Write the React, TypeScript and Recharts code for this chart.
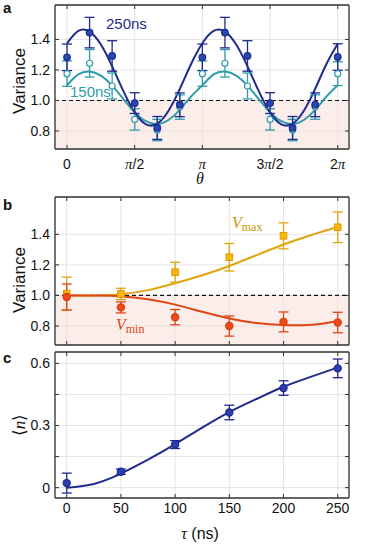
import React from 'react';
import {
  ComposedChart, Line, Scatter, ErrorBar, XAxis, YAxis, CartesianGrid,
  ReferenceArea, ReferenceLine,
} from 'recharts';

const PI = Math.PI;
const SANS = '"Liberation Sans", Arial, sans-serif';
const SERIF = '"Liberation Serif", "DejaVu Serif", serif';

// ---- panel a : variance vs theta (x in steps of pi/6 for points, pi/12 for fits)
const thetaPointSteps = [0, 1, 2, 3, 4, 5, 6, 7, 8, 9, 10, 11, 12];
const var250 = [1.283, 1.445, 1.292, 0.983, 0.82, 0.972, 1.283, 1.445, 1.292, 0.983, 0.82, 0.972, 1.285];
const err250 = [0.087, 0.1, 0.1, 0.068, 0.075, 0.078, 0.087, 0.1, 0.1, 0.068, 0.075, 0.078, 0.087];
const var150 = [1.176, 1.244, 1.095, 0.876, 0.806, 0.957, 1.176, 1.244, 1.095, 0.876, 0.806, 0.957, 1.176];
const err150 = [0.083, 0.09, 0.085, 0.07, 0.07, 0.08, 0.083, 0.09, 0.085, 0.07, 0.07, 0.08, 0.078];

const thetaFitSteps = [0, 1, 2, 3, 4, 5, 6, 7, 8, 9, 10, 11, 12, 13, 14, 15, 16, 17, 18, 19, 20, 21, 22, 23, 24];
const fit250 = [1.375, 1.456, 1.452, 1.367, 1.224, 1.061, 0.922, 0.844, 0.848, 0.933, 1.076, 1.239,
  1.375, 1.456, 1.452, 1.367, 1.224, 1.061, 0.922, 0.844, 0.848, 0.933, 1.076, 1.239, 1.372];
const fit150 = [1.1, 1.171, 1.19, 1.163, 1.097, 1.009, 0.924, 0.864, 0.845, 0.872, 0.938, 1.026,
  1.1, 1.171, 1.19, 1.163, 1.097, 1.009, 0.924, 0.864, 0.845, 0.872, 0.938, 1.026, 1.1];

const thetaTickSteps = [0, 1, 2, 3, 4]; // multiples of pi/2
const thetaTickLabels = ['0', 'π/2', 'π', '3π/2', '2π'];
const varTicks = [0.8, 1.0, 1.2, 1.4];

// ---- panel b : Vmax / Vmin vs tau
const tauPoints = [0, 50, 100, 150, 200, 250];
const vMax = [1.012, 1.01, 1.152, 1.25, 1.39, 1.446];
const vMaxErr = [0.108, 0.037, 0.065, 0.09, 0.085, 0.1];
const vMin = [0.99, 0.922, 0.858, 0.8, 0.827, 0.823];
const vMinErr = [0.085, 0.036, 0.05, 0.066, 0.065, 0.067];

const tauFit = [0, 25, 50, 75, 100, 125, 150, 175, 200, 225, 250];
const vMaxFit = [1.0, 1.0, 1.008, 1.035, 1.08, 1.132, 1.193, 1.263, 1.333, 1.394, 1.448];
const vMinFit = [1.0, 0.999, 0.995, 0.975, 0.94, 0.893, 0.85, 0.82, 0.806, 0.808, 0.832];

const tauTicks = [0, 50, 100, 150, 200, 250];

// ---- panel c : mean photon number vs tau
const nMean = [0.022, 0.077, 0.208, 0.363, 0.481, 0.576];
const nErr = [0.048, 0.013, 0.019, 0.035, 0.035, 0.045];
const nFit = [0, 0.018, 0.068, 0.135, 0.21, 0.29, 0.365, 0.428, 0.487, 0.535, 0.58];
const nTicks = [0, 0.15, 0.3, 0.45, 0.6];
const nTickLabels = ['0', '', '0.3', '', '0.6'];

const rows = (xs: number[], ys: number[], es?: number[]) =>
  xs.map((x, i) => ({ x, y: ys[i], e: es ? es[i] : 0 }));

const pts250 = rows(thetaPointSteps.map((s) => (s * PI) / 6), var250, err250);
const pts150 = rows(thetaPointSteps.map((s) => (s * PI) / 6), var150, err150);
const line250 = rows(thetaFitSteps.map((s) => (s * PI) / 12), fit250);
const line150 = rows(thetaFitSteps.map((s) => (s * PI) / 12), fit150);
const thetaTicks = thetaTickSteps.map((s) => (s * PI) / 2);

const ptsMax = rows(tauPoints, vMax, vMaxErr);
const ptsMin = rows(tauPoints, vMin, vMinErr);
const lineMax = rows(tauFit, vMaxFit);
const lineMin = rows(tauFit, vMinFit);
const ptsN = rows(tauPoints, nMean, nErr);
const lineN = rows(tauFit, nFit);

const FRAME = '#333';
const GRID = '#e4e4e4';
const SHADE = '#f7dcd5';
const NAVY = '#1f2a8c';
const TEAL = '#2f9ca8';
const GOLD = '#e2a40e';
const RED = '#de4616';

const thetaDomain = [-0.279, 6.545];
const tauDomain = [-10.8, 260.4];
const varDomainA = [0.682, 1.626];
const varDomainB = [0.676, 1.644];
const nDomain = [-0.05, 0.655];

const tickStyle = { fontSize: 14, fill: '#111', fontFamily: SANS };

const PiTick = (props: any) => {
  const { x, y, payload } = props;
  const i = thetaTicks.findIndex((t) => Math.abs(t - payload.value) < 1e-6);
  const parts = (thetaTickLabels[i] || '').split(/(π)/).filter(Boolean);
  return (
    <text x={x} y={y} dy={10} textAnchor="middle" fontSize={14} fill="#111" fontFamily={SANS}>
      {parts.map((p, k) =>
        p === 'π' ? (
          <tspan key={k} fontFamily={SERIF} fontStyle="italic" fontSize={15}>π</tspan>
        ) : (
          <tspan key={k}>{p}</tspan>
        ),
      )}
    </text>
  );
};

const NoLabel = () => <g />;

const yTitle = (content: React.ReactNode, shift: number) => (props: any) => {
  const vb = props.viewBox || { x: 0, y: 0, width: 55, height: 140 };
  const cx = vb.x + 19;
  const cy = vb.y + vb.height / 2 + shift;
  return (
    <text x={cx} y={cy} transform={`rotate(-90 ${cx} ${cy})`} textAnchor="middle"
      dominantBaseline="central" fontSize={17} fill="#111" fontFamily={SANS}>
      {content}
    </text>
  );
};

const xTitle = (content: React.ReactNode) => (props: any) => {
  const vb = props.viewBox || { x: 55, y: 0, width: 294, height: 40 };
  return (
    <text x={vb.x + vb.width / 2 - 2} y={vb.y + vb.height - 6} textAnchor="middle"
      fontSize={16} fill="#111" fontFamily={SANS}>
      {content}
    </text>
  );
};

const dot = (fill: string, stroke: string, r: number) => (p: any) =>
  <circle cx={p.cx} cy={p.cy} r={r} fill={fill} stroke={stroke} strokeWidth={1.2} />;
const square = (fill: string, stroke: string) => (p: any) =>
  <rect x={p.cx - 3.3} y={p.cy - 3.3} width={6.6} height={6.6} fill={fill} stroke={stroke} strokeWidth={1} />;

// frame: box outline plus mirrored inward ticks on top and right.
// an invisible line is bound to the mirror axes so that they get a domain.
const frameAxes = (xDom: number[], xTicks: number[], yDom: number[], yTicks: number[], data: any[]) => [
  <XAxis key="xt" xAxisId="top" orientation="top" dataKey="x" type="number" domain={xDom} allowDataOverflow
    ticks={xTicks} tick={<NoLabel />} tickSize={-4} height={1} interval={0}
    axisLine={{ stroke: FRAME, strokeWidth: 1.3 }} tickLine={{ stroke: FRAME }} />,
  <YAxis key="yr" yAxisId="right" orientation="right" dataKey="y" type="number" domain={yDom} allowDataOverflow
    ticks={yTicks} tick={<NoLabel />} tickSize={-4} width={16} interval={0}
    axisLine={{ stroke: FRAME, strokeWidth: 1.3 }} tickLine={{ stroke: FRAME }} />,
  <Line key="fl" xAxisId="top" yAxisId="right" data={data} dataKey="y" stroke="none"
    dot={false} activeDot={false} legendType="none" isAnimationActive={false} />,
  <ReferenceArea key="box" fill="none" stroke={FRAME} strokeWidth={1.3} ifOverflow="visible" />,
];

export default function App() {
  return (
    <div style={{ position: 'absolute', left: 0, top: 0, width: 365, height: 545, background: '#fff' }}>
      {/* panel a */}
      <div style={{ position: 'absolute', left: 0, top: 0 }}>
        <ComposedChart width={365} height={190} margin={{ top: 4, right: 0, bottom: 0, left: 0 }}>
          <CartesianGrid stroke={GRID} />
          <ReferenceArea y1={varDomainA[0]} y2={1} fill={SHADE} fillOpacity={0.5} stroke="none" ifOverflow="visible" />
          <XAxis dataKey="x" type="number" domain={thetaDomain} allowDataOverflow ticks={thetaTicks}
            interval={0} height={41} tickSize={-4} tickMargin={14} tick={<PiTick />}
            axisLine={{ stroke: FRAME, strokeWidth: 1.3 }} tickLine={{ stroke: FRAME }}
            label={xTitle(<tspan fontFamily={SERIF} fontStyle="italic">θ</tspan>)} />
          <YAxis dataKey="y" type="number" domain={varDomainA} allowDataOverflow ticks={varTicks}
            interval={0} width={55} tickSize={-4} tickMargin={9} tick={tickStyle}
            tickFormatter={(v: number) => v.toFixed(1)}
            axisLine={{ stroke: FRAME, strokeWidth: 1.3 }} tickLine={{ stroke: FRAME }}
            label={yTitle('Variance', 4)} />
          {frameAxes(thetaDomain, thetaTicks, varDomainA, varTicks, line250)}
          <ReferenceLine y={1} stroke="#111" strokeDasharray="4 3" strokeWidth={1.2} />
          <Line data={line150} dataKey="y" type="natural" stroke={TEAL} strokeWidth={2} dot={false} isAnimationActive={false} />
          <Line data={line250} dataKey="y" type="natural" stroke={NAVY} strokeWidth={2} dot={false} isAnimationActive={false} />
          <Scatter data={pts150} dataKey="y" shape={dot('#fff', TEAL, 3)} isAnimationActive={false}>
            <ErrorBar dataKey="e" direction="y" width={5} stroke={TEAL} strokeWidth={1.3} />
          </Scatter>
          <Scatter data={pts250} dataKey="y" shape={dot('#2548b2', NAVY, 3.3)} isAnimationActive={false}>
            <ErrorBar dataKey="e" direction="y" width={5} stroke={NAVY} strokeWidth={1.3} />
          </Scatter>
        </ComposedChart>
      </div>

      {/* panel b */}
      <div style={{ position: 'absolute', left: 0, top: 190 }}>
        <ComposedChart width={365} height={160} margin={{ top: 6, right: 0, bottom: 0, left: 0 }}>
          <CartesianGrid stroke={GRID} />
          <ReferenceArea y1={varDomainB[0]} y2={1} fill={SHADE} fillOpacity={0.5} stroke="none" ifOverflow="visible" />
          <XAxis dataKey="x" type="number" domain={tauDomain} allowDataOverflow ticks={tauTicks}
            interval={0} height={5} tickSize={-4} tick={<NoLabel />}
            axisLine={{ stroke: FRAME, strokeWidth: 1.3 }} tickLine={{ stroke: FRAME }} />
          <YAxis dataKey="y" type="number" domain={varDomainB} allowDataOverflow ticks={varTicks}
            interval={0} width={55} tickSize={-4} tickMargin={9} tick={tickStyle}
            tickFormatter={(v: number) => v.toFixed(1)}
            axisLine={{ stroke: FRAME, strokeWidth: 1.3 }} tickLine={{ stroke: FRAME }}
            label={yTitle('Variance', 9)} />
          {frameAxes(tauDomain, tauTicks, varDomainB, varTicks, lineMax)}
          <ReferenceLine y={1} stroke="#111" strokeDasharray="4 3" strokeWidth={1.2} />
          <Line data={lineMax} dataKey="y" type="natural" stroke={GOLD} strokeWidth={2} dot={false} isAnimationActive={false} />
          <Line data={lineMin} dataKey="y" type="natural" stroke={RED} strokeWidth={2} dot={false} isAnimationActive={false} />
          <Scatter data={ptsMax} dataKey="y" shape={square('#f6b70a', '#e39a00')} isAnimationActive={false}>
            <ErrorBar dataKey="e" direction="y" width={5} stroke={GOLD} strokeWidth={1.3} />
          </Scatter>
          <Scatter data={ptsMin} dataKey="y" shape={dot('#f04818', '#d93c10', 3.6)} isAnimationActive={false}>
            <ErrorBar dataKey="e" direction="y" width={5} stroke={RED} strokeWidth={1.3} />
          </Scatter>
        </ComposedChart>
      </div>

      {/* panel c */}
      <div style={{ position: 'absolute', left: 0, top: 345 }}>
        <ComposedChart width={365} height={200} margin={{ top: 6, right: 0, bottom: 0, left: 0 }}>
          <CartesianGrid stroke={GRID} />
          <XAxis dataKey="x" type="number" domain={tauDomain} allowDataOverflow ticks={tauTicks}
            interval={0} height={47} tickSize={-4} tickMargin={9} tick={tickStyle}
            axisLine={{ stroke: FRAME, strokeWidth: 1.3 }} tickLine={{ stroke: FRAME }}
            label={xTitle(<>
              <tspan fontFamily={SERIF} fontStyle="italic">τ</tspan>
              <tspan> (ns)</tspan>
            </>)} />
          <YAxis dataKey="y" type="number" domain={nDomain} allowDataOverflow ticks={nTicks}
            interval={0} width={55} tickSize={-4} tickMargin={9} tick={tickStyle}
            tickFormatter={(v: number) => nTickLabels[nTicks.indexOf(v)] ?? ''}
            axisLine={{ stroke: FRAME, strokeWidth: 1.3 }} tickLine={{ stroke: FRAME }}
            label={yTitle(<>
              <tspan>⟨</tspan>
              <tspan fontFamily={SERIF} fontStyle="italic">n</tspan>
              <tspan>⟩</tspan>
            </>, 0)} />
          {frameAxes(tauDomain, tauTicks, nDomain, nTicks, lineN)}
          <Line data={lineN} dataKey="y" type="natural" stroke={NAVY} strokeWidth={2} dot={false} isAnimationActive={false} />
          <Scatter data={ptsN} dataKey="y" shape={dot('#2a3db2', NAVY, 3.6)} isAnimationActive={false}>
            <ErrorBar dataKey="e" direction="y" width={5} stroke={NAVY} strokeWidth={1.3} />
          </Scatter>
        </ComposedChart>
      </div>

      {/* annotations */}
      <svg width={365} height={545} style={{ position: 'absolute', left: 0, top: 0, pointerEvents: 'none' }}>
        <text x={3} y={13} fontSize={15} fontWeight="bold" fontFamily={SANS} fill="#111">a</text>
        <text x={3} y={210} fontSize={15} fontWeight="bold" fontFamily={SANS} fill="#111">b</text>
        <text x={3} y={363} fontSize={15} fontWeight="bold" fontFamily={SANS} fill="#111">c</text>
        <text x={106} y={29} fontSize={15} fontFamily={SANS} fill={NAVY}>250ns</text>
        <text x={70} y={97} fontSize={15} fontFamily={SANS} fill={TEAL}>150ns</text>
        <text x={232} y={228} fontFamily={SERIF} fill="#c8960c">
          <tspan fontSize={16} fontStyle="italic">V</tspan>
          <tspan fontSize={12} dy={3}>max</tspan>
        </text>
        <text x={116} y={330} fontFamily={SERIF} fill={RED}>
          <tspan fontSize={16} fontStyle="italic">V</tspan>
          <tspan fontSize={12} dy={3}>min</tspan>
        </text>
      </svg>
    </div>
  );
}
